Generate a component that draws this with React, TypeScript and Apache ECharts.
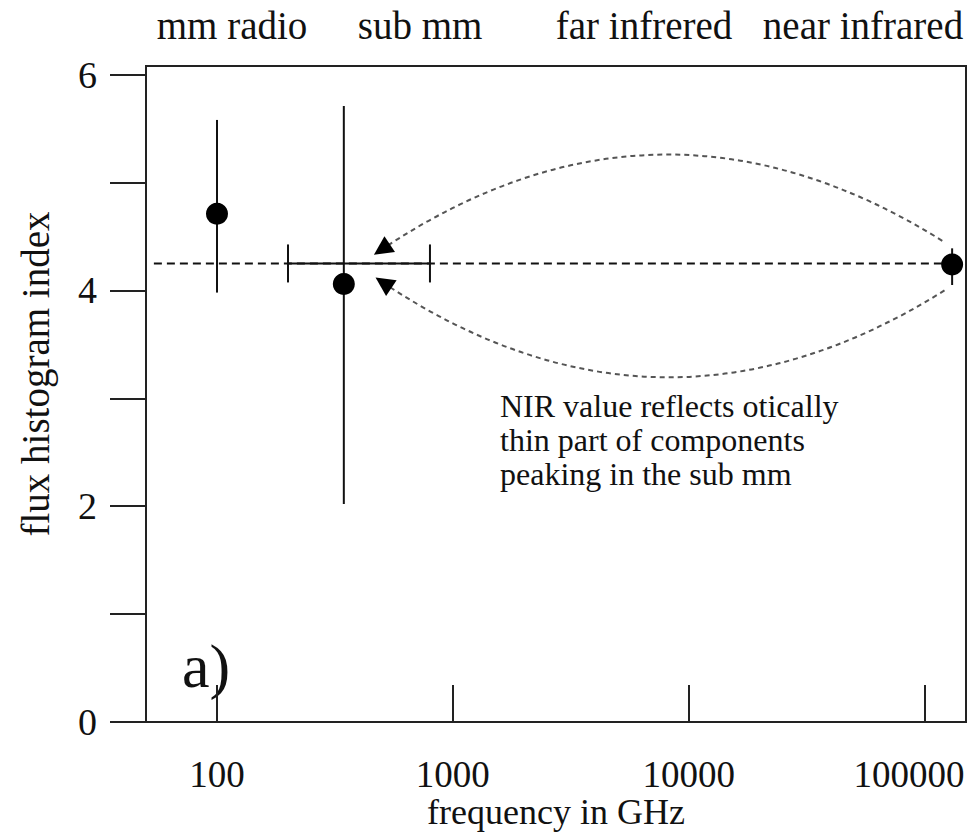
import React, { useEffect, useRef } from "react";
import * as echarts from "echarts";

// ---- data ----
const frequencies = [100, 345, 131000]; // GHz
const indexValues = [4.71, 4.06, 4.24];
const indexLow = [3.98, 2.02, 4.05];
const indexHigh = [5.58, 5.71, 4.39];
const subMmFreqRange = [200, 800];
const subMmBarLevel = 4.25;
const levelLine = [
  [54, 4.25],
  [131000, 4.25],
];
const arrowUpper = [
  [119000, 4.46],
  [500, 4.38],
];
const arrowLower = [
  [121600, 4.0],
  [508, 4.07],
];
const xTicks = [100, 1000, 10000, 100000];
const yTicks = [0, 1, 2, 3, 4, 5, 6];
const yLabels = [0, 2, 4, 6];
const bandNames = ["mm radio", "sub mm", "far infrered", "near infrared"];
const noteLines = [
  "NIR value reflects otically",
  "thin part of components",
  "peaking in the sub mm",
];
const panelLabel = "a)";

const FONT = "'Liberation Serif', 'Times New Roman', serif";
const INK = "#111";
const AXIS = "#222";

export default function App() {
  const ref = useRef<HTMLDivElement>(null);

  useEffect(() => {
    if (!ref.current) return;
    const chart = echarts.init(ref.current, null, { renderer: "svg" });

    const bandX = [232, 420, 644, 863];
    const lastTick = xTicks[xTicks.length - 1];

    const arcSeries = (coords: number[][], curveness: number) => [
      {
        type: "lines",
        coordinateSystem: "cartesian2d",
        data: [{ coords }],
        lineStyle: { color: "#555", width: 2, type: [5, 4], curveness, opacity: 1 },
        symbol: "none",
        z: 3,
      },
      {
        type: "lines",
        coordinateSystem: "cartesian2d",
        data: [{ coords }],
        lineStyle: { color: "#000", width: 0, curveness, opacity: 1 },
        symbol: ["none", "triangle"],
        symbolSize: 19,
        z: 3,
      },
    ];

    const option: any = {
      animation: false,
      backgroundColor: "#fff",
      grid: {
        left: 146,
        right: 12,
        top: 66,
        bottom: 110,
        show: true,
        borderColor: AXIS,
        borderWidth: 2,
        backgroundColor: "transparent",
        containLabel: false,
        outerBoundsMode: "none",
      },
      xAxis: {
        type: "log",
        logBase: 10,
        min: 50,
        max: 150000,
        axisLine: { show: true, lineStyle: { color: AXIS, width: 2 } },
        axisTick: {
          show: true,
          inside: true,
          length: 37,
          lineStyle: { color: AXIS, width: 2 },
          customValues: xTicks,
        },
        minorTick: { show: false },
        splitLine: { show: false },
        axisLabel: {
          customValues: xTicks,
          formatter: (v: number) => {
            const r = Math.round(v);
            return r === lastTick ? `{last|${r}}` : String(r);
          },
          rich: {
            last: {
              fontFamily: FONT,
              fontSize: 37,
              color: INK,
              padding: [0, 31, 0, 0],
            },
          },
          fontFamily: FONT,
          fontSize: 37,
          color: INK,
          margin: 34,
        },
        name: "frequency in GHz",
        nameLocation: "middle",
        nameGap: 72,
        nameMoveOverlap: false,
        nameTextStyle: { fontFamily: FONT, fontSize: 36, color: INK },
      },
      yAxis: {
        type: "value",
        min: 0,
        max: 6.08,
        axisLine: { show: true, lineStyle: { color: AXIS, width: 2 } },
        axisTick: {
          show: true,
          inside: false,
          length: 36,
          lineStyle: { color: AXIS, width: 2 },
          customValues: yTicks,
        },
        splitLine: { show: false },
        axisLabel: {
          customValues: yLabels,
          fontFamily: FONT,
          fontSize: 38,
          color: INK,
          margin: 49,
        },
        name: "flux histogram index",
        nameLocation: "middle",
        nameRotate: 90,
        nameGap: 91,
        nameMoveOverlap: false,
        nameTextStyle: {
          fontFamily: FONT,
          fontSize: 39,
          color: INK,
          padding: [0, 0, 0, 40],
        },
      },
      graphic: [
        ...bandNames.map((t, i) => ({
          type: "text",
          x: bandX[i],
          y: 25,
          style: {
            text: t,
            fontFamily: FONT,
            fontSize: 39,
            fill: INK,
            align: "center",
            verticalAlign: "middle",
          },
        })),
        {
          type: "text",
          x: 500,
          y: 389,
          style: {
            text: noteLines.join("\n"),
            fontFamily: FONT,
            fontSize: 32,
            lineHeight: 34,
            fill: INK,
            align: "left",
            verticalAlign: "top",
          },
        },
        {
          type: "text",
          x: 182,
          y: 666,
          style: {
            text: panelLabel,
            fontFamily: FONT,
            fontSize: 62,
            fill: INK,
            align: "left",
            verticalAlign: "middle",
          },
        },
      ],
      series: [
        {
          type: "line",
          data: levelLine,
          symbol: "none",
          lineStyle: { color: "#111", width: 2, type: [8, 5], opacity: 1 },
          z: 2,
        },
        ...arcSeries(arrowUpper, -0.323),
        ...arcSeries(arrowLower, 0.323),
        {
          type: "custom",
          renderItem: (params: any, api: any) => {
            const x = api.value(0);
            const p1 = api.coord([x, api.value(2)]);
            const p2 = api.coord([x, api.value(3)]);
            return {
              type: "line",
              shape: { x1: p1[0], y1: p1[1], x2: p2[0], y2: p2[1] },
              style: { stroke: "#111", lineWidth: 2 },
            };
          },
          data: frequencies.map((f, i) => [f, indexValues[i], indexLow[i], indexHigh[i]]),
          encode: { x: 0, y: [1, 2, 3] },
          z: 4,
        },
        {
          type: "custom",
          renderItem: (params: any, api: any) => {
            const a = api.coord([api.value(0), api.value(2)]);
            const b = api.coord([api.value(1), api.value(2)]);
            const cap = 19;
            return {
              type: "group",
              children: [
                {
                  type: "line",
                  shape: { x1: a[0], y1: a[1], x2: b[0], y2: b[1] },
                  style: { stroke: "#111", lineWidth: 2 },
                },
                {
                  type: "line",
                  shape: { x1: a[0], y1: a[1] - cap, x2: a[0], y2: a[1] + cap },
                  style: { stroke: "#111", lineWidth: 2 },
                },
                {
                  type: "line",
                  shape: { x1: b[0], y1: b[1] - cap, x2: b[0], y2: b[1] + cap },
                  style: { stroke: "#111", lineWidth: 2 },
                },
              ],
            };
          },
          data: [[subMmFreqRange[0], subMmFreqRange[1], subMmBarLevel]],
          encode: { x: [0, 1], y: 2 },
          z: 4,
        },
        {
          type: "scatter",
          data: frequencies.map((f, i) => [f, indexValues[i]]),
          symbol: "circle",
          symbolSize: 22,
          itemStyle: { color: "#000", opacity: 1 },
          z: 5,
        },
      ],
    };

    chart.setOption(option);
    return () => chart.dispose();
  }, []);

  return (
    <div
      ref={ref}
      style={{ position: "absolute", left: 0, top: 0, width: 978, height: 832 }}
    />
  );
}
